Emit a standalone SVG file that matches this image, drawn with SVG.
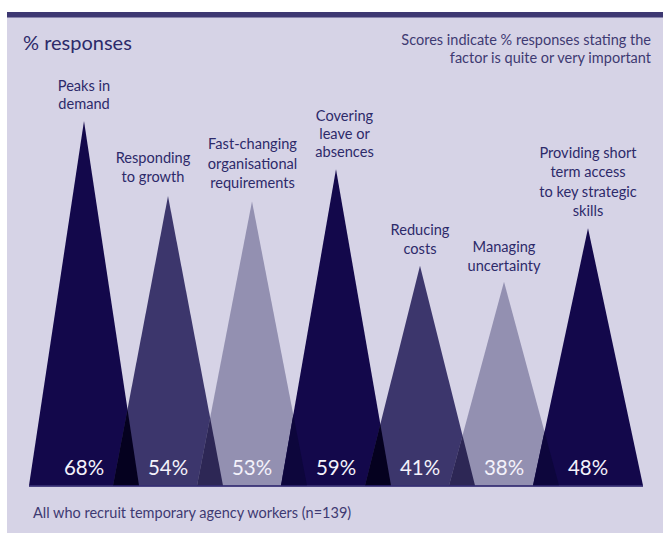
<svg xmlns="http://www.w3.org/2000/svg" width="663" height="534" viewBox="0 0 663 534">
<style>
.lbl{font-family:Lato,"Open Sans","Liberation Sans",sans-serif;font-size:14.6px;fill:#2d2a6a;text-anchor:middle}
.note{font-family:Lato,"Open Sans","Liberation Sans",sans-serif;font-size:14.5px;fill:#3e3a72}
.pct{font-family:Lato,"Open Sans","Liberation Sans",sans-serif;font-size:20.5px;fill:#f4f2fb;text-anchor:middle}
.dark{fill:#13084b}.med{fill:#3c366c}.light{fill:#9390b1}
.dm{fill:#05011f}.ml{fill:#2d2755}.ld{fill:#0d063c}
</style>
<defs>
<clipPath id="c1"><polygon points="29,485.5 84,121 139,485.5"/></clipPath>
<clipPath id="c2"><polygon points="113,485.5 168,196.1 223,485.5"/></clipPath>
<clipPath id="c3"><polygon points="197,485.5 252,201.4 307,485.5"/></clipPath>
<clipPath id="c4"><polygon points="281,485.5 336,169.3 391,485.5"/></clipPath>
<clipPath id="c5"><polygon points="365,485.5 420,265.7 475,485.5"/></clipPath>
<clipPath id="c6"><polygon points="449,485.5 504,281.8 559,485.5"/></clipPath>
</defs>
<rect x="7" y="12" width="656" height="521" fill="#d6d3e6"/>
<rect x="7" y="12" width="656" height="5.5" fill="#3d3872"/>
<text x="23" y="50" class="note" style="font-size:20px;fill:#2d2a6a">% responses</text>
<text class="note" text-anchor="end"><tspan x="651" y="45">Scores indicate % responses stating the</tspan><tspan x="651" y="63">factor is quite or very important</tspan></text>

<g id="t1"><polygon class="dark" points="29,485.5 84,121 139,485.5"/><text class="lbl"><tspan x="84" y="90.5">Peaks in</tspan><tspan x="84" y="108.5">demand</tspan></text><text class="pct" x="84" y="475">68%</text></g>
<g id="t2"><polygon class="med" points="113,485.5 168,196.1 223,485.5"/><polygon class="dm" clip-path="url(#c1)" points="113,485.5 168,196.1 223,485.5"/><text class="lbl"><tspan x="153" y="163.3">Responding</tspan><tspan x="153" y="182.3">to growth</tspan></text><text class="pct" x="168" y="475">54%</text></g>
<g id="t3"><polygon class="light" points="197,485.5 252,201.4 307,485.5"/><polygon class="ml" clip-path="url(#c2)" points="197,485.5 252,201.4 307,485.5"/><text class="lbl"><tspan x="252.5" y="149">Fast-changing</tspan><tspan x="252.5" y="168.5">organisational</tspan><tspan x="252.5" y="188">requirements</tspan></text><text class="pct" x="252" y="475">53%</text></g>
<g id="t4"><polygon class="dark" points="281,485.5 336,169.3 391,485.5"/><polygon class="ld" clip-path="url(#c3)" points="281,485.5 336,169.3 391,485.5"/><text class="lbl"><tspan x="344.5" y="120.7">Covering</tspan><tspan x="344.5" y="138.7">leave or</tspan><tspan x="344.5" y="156.7">absences</tspan></text><text class="pct" x="336" y="475">59%</text></g>
<g id="t5"><polygon class="med" points="365,485.5 420,265.7 475,485.5"/><polygon class="dm" clip-path="url(#c4)" points="365,485.5 420,265.7 475,485.5"/><text class="lbl"><tspan x="420" y="235">Reducing</tspan><tspan x="420" y="253.5">costs</tspan></text><text class="pct" x="420" y="475">41%</text></g>
<g id="t6"><polygon class="light" points="449,485.5 504,281.8 559,485.5"/><polygon class="ml" clip-path="url(#c5)" points="449,485.5 504,281.8 559,485.5"/><text class="lbl"><tspan x="504" y="251.7">Managing</tspan><tspan x="504" y="270.7">uncertainty</tspan></text><text class="pct" x="504" y="475">38%</text></g>
<g id="t7"><polygon class="dark" points="533,485.5 588,228.2 643,485.5"/><polygon class="ld" clip-path="url(#c6)" points="533,485.5 588,228.2 643,485.5"/><text class="lbl"><tspan x="588" y="157.7">Providing short</tspan><tspan x="588" y="177.3">term access</tspan><tspan x="588" y="196.7">to key strategic</tspan><tspan x="588" y="216">skills</tspan></text><text class="pct" x="588" y="475">48%</text></g>

<g id="connectors"><line x1="29" y1="486" x2="643" y2="486" stroke="#1c1462" stroke-width="1.5"/></g>
<text x="33" y="518" class="note">All who recruit temporary agency workers (n=139)</text>
</svg>
